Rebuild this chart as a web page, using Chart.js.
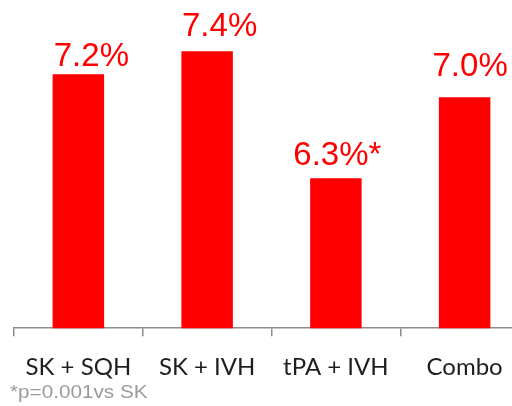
<!DOCTYPE html>
<html>
<head>
<meta charset="utf-8">
<script src="https://cdn.jsdelivr.net/npm/chart.js@4/dist/chart.umd.min.js"></script>
<style>
  html, body { margin: 0; padding: 0; background: #fff; overflow: hidden; }
  #wrap { position: relative; width: 529px; height: 406px; }
</style>
</head>
<body>
<div id="wrap"><canvas id="chart"></canvas></div>
<script>
// Rebleeding rates by treatment group
const categories = ['SK + SQH', 'SK + IVH', 'tPA + IVH', 'Combo'];
const rates = [7.2, 7.4, 6.3, 7.0];
const valueLabels = ['7.2%', '7.4%', '6.3%*', '7.0%'];
const footnote = '*p=0.001vs SK';

// Value labels above bars, nudged per bar
const valueLabelPlugin = {
    id: 'valueLabels',
    afterDatasetsDraw(chart, args, opts) {
        const ctx = chart.ctx;
        const meta = chart.getDatasetMeta(0);
        ctx.save();
        ctx.font = opts.font;
        ctx.fillStyle = opts.color;
        ctx.textAlign = 'center';
        ctx.textBaseline = 'alphabetic';
        meta.data.forEach((bar, i) => {
            ctx.fillText(valueLabels[i], bar.x + opts.dx[i], bar.y - opts.gap[i]);
        });
        ctx.restore();
    }
};

const footnotePlugin = {
    id: 'footnote',
    afterDraw(chart, args, opts) {
        const ctx = chart.ctx;
        ctx.save();
        ctx.font = opts.font;
        ctx.fillStyle = opts.color;
        ctx.textBaseline = 'alphabetic';
        ctx.translate(opts.x, opts.y);
        ctx.scale(opts.stretch, 1);
        ctx.fillText(footnote, 0, 0);
        ctx.restore();
    }
};

new Chart(document.getElementById('chart'), {
    type: 'bar',
    data: {
        labels: categories,
        datasets: [{
            data: rates,
            backgroundColor: '#ff0000',
            borderWidth: 0,
            barPercentage: 0.8,
            categoryPercentage: 0.5
        }]
    },
    options: {
        responsive: true,
        maintainAspectRatio: false,
        animation: false,
        layout: { padding: { left: 14, top: 5, right: 0, bottom: 7 } },
        plugins: {
            legend: { display: false },
            tooltip: { enabled: false },
            valueLabels: {
                font: '33px "Liberation Sans", Arial, sans-serif',
                color: '#ff0000',
                dx: [13, 12.5, 1.5, 5.5],
                gap: [8, 15, 13, 21]
            },
            footnote: {
                font: '18px "Liberation Sans", Arial, sans-serif',
                color: '#9a9a9a',
                x: 10,
                y: 398,
                stretch: 1.15
            }
        },
        scales: {
            x: {
                offset: true,
                border: { display: true, color: '#8c8c8c', width: 1.5 },
                grid: {
                    display: true,
                    offset: true,
                    drawOnChartArea: false,
                    drawTicks: true,
                    tickLength: 8,
                    color: '#8c8c8c',
                    lineWidth: 1.5
                },
                ticks: {
                    color: '#1e1e1e',
                    font: { family: 'Lato', size: 24 },
                    padding: 17,
                    maxRotation: 0,
                    autoSkip: false
                }
            },
            y: {
                display: false,
                min: 5,
                max: 7.8
            }
        }
    },
    plugins: [valueLabelPlugin, footnotePlugin]
});
</script>
</body>
</html>
